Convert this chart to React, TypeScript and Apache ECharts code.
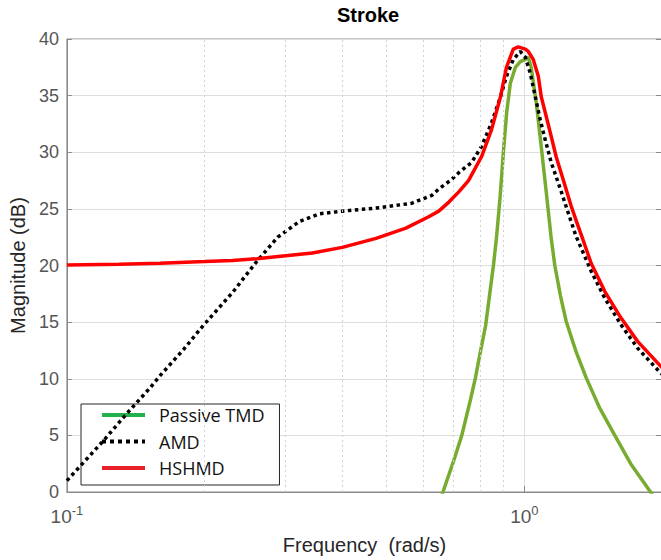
import React, { useEffect, useRef } from "react";
import * as echarts from "echarts";

// Frequency (rad/s) and magnitude (dB)
const tmdFreq = [0.6, 0.664, 0.7, 0.73, 0.76, 0.782, 0.8, 0.823, 0.856, 0.869, 0.885, 0.9, 0.915, 0.932, 0.956, 0.98, 1.005, 1.02, 1.035, 1.062, 1.089, 1.116, 1.145, 1.166, 1.2, 1.234, 1.3, 1.365, 1.462, 1.577, 1.708, 1.888, 2.0];
const tmdMag = [-5, 0, 2.7, 5.0, 7.9, 10.1, 12.2, 14.7, 20.0, 22.4, 26.0, 30.0, 33.5, 36.1, 37.5, 38.0, 38.2, 38.4, 37.5, 34.4, 30.5, 26.6, 22.4, 20.0, 17.3, 15.1, 12.3, 10.1, 7.4, 5.0, 2.5, 0, -1.6];

const amdFreq = [0.1, 0.107, 0.12, 0.135, 0.152, 0.16, 0.18, 0.1986, 0.23, 0.26, 0.289, 0.3226, 0.356, 0.4, 0.482, 0.568, 0.628, 0.65, 0.694, 0.719, 0.767, 0.806, 0.848, 0.887, 0.914, 0.946, 0.98, 1.005, 1.03, 1.057, 1.083, 1.111, 1.145, 1.198, 1.246, 1.297, 1.4, 1.5, 1.625, 1.769, 1.956, 2.0];
const amdMag = [1.0, 2.3, 4.5, 6.9, 9.2, 10.3, 12.6, 14.7, 17.6, 20.35, 22.5, 23.9, 24.56, 24.8, 25.1, 25.5, 26.2, 26.75, 27.6, 28.2, 29.1, 30.5, 32.6, 34.9, 36.7, 38.2, 38.9, 38.4, 37.0, 34.9, 32.9, 31.1, 29.1, 26.8, 24.7, 22.6, 19.5, 17.1, 14.8, 12.7, 10.8, 10.4];

const hshmdFreq = [0.1, 0.13, 0.16, 0.2, 0.23, 0.26, 0.29, 0.344, 0.4, 0.474, 0.551, 0.618, 0.65, 0.684, 0.719, 0.755, 0.806, 0.848, 0.887, 0.914, 0.946, 0.97, 1.005, 1.02, 1.046, 1.073, 1.089, 1.116, 1.145, 1.174, 1.216, 1.265, 1.3, 1.343, 1.4, 1.5, 1.625, 1.769, 1.956, 2.0];
const hshmdMag = [20.05, 20.1, 20.2, 20.35, 20.45, 20.6, 20.8, 21.1, 21.6, 22.4, 23.3, 24.3, 24.8, 25.6, 26.5, 27.5, 29.6, 32.0, 34.9, 37.5, 39.1, 39.3, 39.1, 38.9, 38.2, 36.7, 34.9, 33.2, 31.4, 29.6, 27.6, 25.3, 23.9, 22.3, 20.2, 17.7, 15.4, 13.3, 11.4, 11.0];

const seriesNames = ["Passive TMD", "AMD", "HSHMD"];
const minorGridFreqs = [0.2, 0.3, 0.4, 0.5, 0.6, 0.7, 0.8, 0.9];
const yTicks = { min: 0, max: 40, interval: 5 };
const xRange = { min: 0.1, max: 2 };

const zip = (xs: number[], ys: number[]) => xs.map((x, i) => [x, ys[i]]);

const FONT = "'Liberation Sans', Arial, Helvetica, sans-serif";
const TICK_COLOR = "#555555";
const AXIS_COLOR = "#8a8a8a";

export default function App() {
  const ref = useRef<HTMLDivElement>(null);

  useEffect(() => {
    if (!ref.current) return;
    const chart = echarts.init(ref.current, null, { renderer: "svg" });
    const hiddenSymbol = { opacity: 0, borderWidth: 0 };
    const option: any = {
      animation: false,
      backgroundColor: "#ffffff",
      title: {
        text: "Stroke",
        left: 363,
        top: 0,
        textAlign: "center",
        textStyle: { fontFamily: FONT, fontSize: 20, fontWeight: "bold", color: "#000" },
      },
      grid: {
        left: 66,
        top: 39,
        right: 0,
        bottom: 65,
        show: true,
        borderColor: AXIS_COLOR,
        borderWidth: 1,
        backgroundColor: "transparent",
      },
      legend: {
        orient: "vertical",
        left: 81,
        top: 404,
        padding: [1, 15, 7, 19],
        itemGap: 6.5,
        itemWidth: 43,
        itemHeight: 20,
        borderColor: "#262626",
        borderWidth: 1,
        backgroundColor: "#ffffff",
        selectedMode: false,
        textStyle: {
          fontFamily: "'Open Sans', 'Noto Sans', sans-serif",
          fontSize: 18,
          lineHeight: 20,
          color: "#111",
          padding: [0, 0, 0, 9],
        },
        data: [
          { name: seriesNames[0], itemStyle: hiddenSymbol, lineStyle: { color: "#22b14c", width: 4 } },
          { name: seriesNames[1], itemStyle: hiddenSymbol, lineStyle: { color: "#000", width: 4, type: [4, 4] } },
          { name: seriesNames[2], itemStyle: hiddenSymbol, lineStyle: { color: "#e8202a", width: 4 } },
        ],
      },
      xAxis: {
        type: "log",
        logBase: 10,
        min: xRange.min,
        max: xRange.max,
        name: "Frequency  (rad/s)",
        nameLocation: "middle",
        nameGap: 43,
        nameTextStyle: { fontFamily: FONT, fontSize: 20, color: "#262626" },
        axisLine: { show: true, lineStyle: { color: AXIS_COLOR } },
        axisTick: { show: true, inside: true, length: 6, lineStyle: { color: AXIS_COLOR } },
        axisLabel: {
          margin: 12,
          color: TICK_COLOR,
          fontFamily: FONT,
          formatter: (v: number) => {
            const l = Math.log10(v);
            const e = Math.round(l);
            if (Math.abs(l - e) > 1e-6) return "";
            return `{b|10}{s|${e}}`;
          },
          rich: {
            b: { fontSize: 19, lineHeight: 24, color: TICK_COLOR, fontFamily: FONT },
            s: { fontSize: 13, lineHeight: 13, color: TICK_COLOR, fontFamily: FONT, verticalAlign: "top" },
          },
        },
        splitLine: { show: true, lineStyle: { color: "#dedede", width: 1 } },
      },
      yAxis: [
        {
          type: "value",
          min: yTicks.min,
          max: yTicks.max,
          interval: yTicks.interval,
          name: "Magnitude (dB)",
          nameLocation: "middle",
          nameGap: 32,
          nameTextStyle: { fontFamily: FONT, fontSize: 20, color: "#262626" },
          axisLine: { show: true, lineStyle: { color: AXIS_COLOR } },
          axisTick: { show: true, inside: true, length: 5, lineStyle: { color: AXIS_COLOR } },
          axisLabel: { margin: 8, color: TICK_COLOR, fontFamily: FONT, fontSize: 18 },
          splitLine: { show: true, lineStyle: { color: "#dedede", width: 1 } },
        },
        {
          type: "value",
          position: "right",
          min: yTicks.min,
          max: yTicks.max,
          interval: yTicks.interval,
          axisLine: { show: false },
          axisTick: { show: true, inside: true, length: 6, lineStyle: { color: AXIS_COLOR } },
          axisLabel: { show: false },
          splitLine: { show: false },
        },
      ],
      series: [
        {
          name: "minor-grid",
          type: "line",
          data: [],
          z: 1,
          silent: true,
          markLine: {
            silent: true,
            symbol: ["none", "none"],
            label: { show: false },
            emphasis: { disabled: true },
            lineStyle: { color: "#d2d2d2", width: 1, type: [2, 3] },
            data: minorGridFreqs.map((f) => ({ xAxis: f })),
          },
        },
        {
          name: seriesNames[0],
          type: "line",
          data: zip(tmdFreq, tmdMag),
          showSymbol: false,
          symbol: "none",
          z: 3,
          lineStyle: { color: "#77ac30", width: 3.5 },
          itemStyle: { color: "#77ac30" },
        },
        {
          name: seriesNames[1],
          type: "line",
          data: zip(amdFreq, amdMag),
          showSymbol: false,
          symbol: "none",
          z: 4,
          lineStyle: { color: "#000000", width: 3.5, type: [3.5, 3.5], cap: "butt" },
          itemStyle: { color: "#000000" },
        },
        {
          name: seriesNames[2],
          type: "line",
          data: zip(hshmdFreq, hshmdMag),
          showSymbol: false,
          symbol: "none",
          z: 5,
          lineStyle: { color: "#ff0000", width: 3.5 },
          itemStyle: { color: "#ff0000" },
        },
      ],
    };
    chart.setOption(option);
    return () => chart.dispose();
  }, []);

  return (
    <div
      style={{ position: "fixed", left: 0, top: 0, width: 661, height: 560, overflow: "hidden", background: "#fff" }}
    >
      <div ref={ref} style={{ width: 665, height: 560 }} />
    </div>
  );
}
